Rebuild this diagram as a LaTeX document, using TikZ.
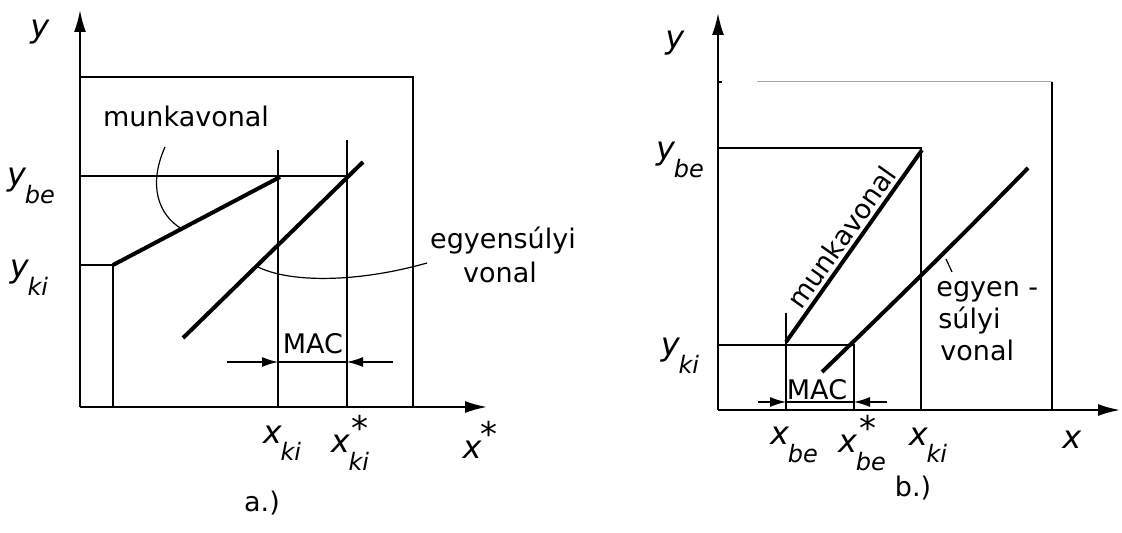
\documentclass[tikz,border=0pt]{standalone}
\usepackage{fontspec}
\setmainfont{DejaVu Sans}
\usepackage{tikz}
\usetikzlibrary{arrows.meta,calc,positioning}

% 下标与带星号的下标
\newcommand{\starsym}{\raisebox{0.7ex}{\fontsize{17}{17}\selectfont *}}
\newcommand{\subtxt}[1]{\raisebox{-1.0ex}{\fontsize{12}{12}\selectfont\textit{#1}}}
\newcommand{\idx}[2]{\textit{#1}\kern-0.05em\subtxt{#2}}
\newcommand{\idxs}[2]{\textit{#1}\rlap{\kern0.05em\starsym}\kern-0.05em\subtxt{#2}}

\tikzset{
  axis/.style={line width=1pt, -{Latex[length=11pt,width=6pt]}},
  guide/.style={line width=0.6pt},
  curve/.style={line width=2pt},
  leader/.style={line width=0.6pt},
  macarrow/.style={line width=0.6pt, -{Latex[length=8pt,width=5pt]}},
  lbl/.style={font=\fontsize{13.5}{16}\selectfont, inner sep=1pt},
  sym/.style={font=\fontsize{16}{18}\selectfont, inner sep=1pt},
}

\begin{document}
\begin{tikzpicture}[x=0.5pt, y=-0.5pt, >=Stealth]
    \useasboundingbox (0,0) rectangle (1122,533);

    % ===== a.) =====
    \coordinate (Oa) at (80,407);
    \draw[axis] (Oa) -- (80,10);
    \draw[axis] (Oa) -- (487,407);

    % 外框
    \draw[guide] (80,77) -- (413,77) -- (413,407);

    % y_be, y_ki 辅助线
    \coordinate (Abe) at (80,176);
    \coordinate (Aki) at (80,265);
    \coordinate (Wa1) at (113,265);
    \coordinate (Wa2) at (280,177);
    \coordinate (Xki) at (278,407);
    \coordinate (Xks) at (347,407);
    \draw[guide] (Abe) -- (347,176);
    \draw[guide] (Aki) -- (Wa1) -- (113,407);
    \draw[guide] (278,150) -- (Xki);
    \draw[guide] (347,140) -- (Xks);

    % munkavonal 与 egyensúlyi vonal
    \draw[curve] (Wa1) -- (Wa2);
    \coordinate (Ea1) at (183,338);
    \coordinate (Ea2) at (363,162);
    \draw[curve] (Ea1) -- (Ea2);

    % MAC
    \coordinate (Ma) at (278,362);
    \coordinate (Mb) at (347,362);
    \draw[guide] (Ma) -- (Mb);
    \draw[macarrow] (227,362) -- (Ma);
    \draw[macarrow] (393,362) -- (Mb);
    \node[lbl] (maca) at (313,344) {MAC};

    % 标注
    \node[lbl, anchor=base] (munka) at (186,127) {munkavonal};
    \draw[leader] (165,147) .. controls (148,185) and (158,215) .. (182,229);
    \node[lbl, anchor=base] (egyena) at (503,249) {egyensúlyi};
    \node[lbl, anchor=base] (vonala) at (500,283) {vonal};
    \draw[leader] (256,266) .. controls (290,284) and (360,282) .. (427,263);

    \node[sym] (ya) at (40,32) {\textit{y}};
    \node[sym] (ybea) at (31,186) {\idx{y}{be}};
    \node[sym] (ykia) at (29,278) {\idx{y}{ki}};
    \node[sym] (xkia) at (282,443) {\idx{x}{ki}};
    \node[sym] (xksa) at (350,443) {\idxs{x}{ki}};
    \node[sym] (xsa) at (480,440) {\textit{x}\kern-0.05em\starsym};
    \node[lbl] (capa) at (262,503) {a.)};

    % ===== b.) =====
    \coordinate (Ob) at (718,410);
    \draw[axis] (Ob) -- (718,13);
    \draw[axis] (Ob) -- (1120,410);

    % 外框
    \draw[guide] (718,82) -- (722,82);
    \draw[line width=0.5pt, gray!70] (757,82) -- (1052,82);
    \draw[guide] (1052,82) -- (1052,410);

    % 辅助线
    \coordinate (Wb1) at (786,342);
    \coordinate (Wb2) at (922,150);
    \draw[guide] (718,148) -- (921,148) -- (921,410);
    \draw[guide] (718,345) -- (854,345) -- (854,410);
    \draw[guide] (786,313) -- (786,410);

    % munkavonal 与 egyensúlyi vonal
    \draw[curve] (Wb1) -- (Wb2)
        node[lbl, midway, sloped, above, inner sep=1.5pt] (munkb) {munkavonal};
    \coordinate (Eb1) at (822,372);
    \coordinate (Eb2) at (1028,168);
    \draw[curve] (Eb1) .. controls (878,318) and (958,240) .. (Eb2);
    \draw[leader] (946,259) -- (952,272);

    % MAC
    \coordinate (Mc) at (786,402);
    \coordinate (Md) at (854,402);
    \draw[guide] (Mc) -- (Md);
    \draw[macarrow] (758,402) -- (Mc);
    \draw[macarrow] (887,402) -- (Md);
    \node[lbl] (macb) at (817,390) {MAC};

    % 标注
    \node[lbl, anchor=base west] (egyb1) at (934,297) {egyen -};
    \node[lbl, anchor=base west] (egyb2) at (936,329) {súlyi};
    \node[lbl, anchor=base west] (egyb3) at (938,361) {vonal};

    \node[sym] (yb) at (675,43) {\textit{y}};
    \node[sym] (ybeb) at (680,160) {\idx{y}{be}};
    \node[sym] (ykib) at (680,356) {\idx{y}{ki}};
    \node[sym] (xbeb) at (794,445) {\idx{x}{be}};
    \node[sym] (xbsb) at (862,443) {\idxs{x}{be}};
    \node[sym] (xkib) at (928,445) {\idx{x}{ki}};
    \node[sym] (xb) at (1072,440) {\textit{x}};
    \node[lbl] (capb) at (913,488) {b.)};
\end{tikzpicture}
\end{document}
